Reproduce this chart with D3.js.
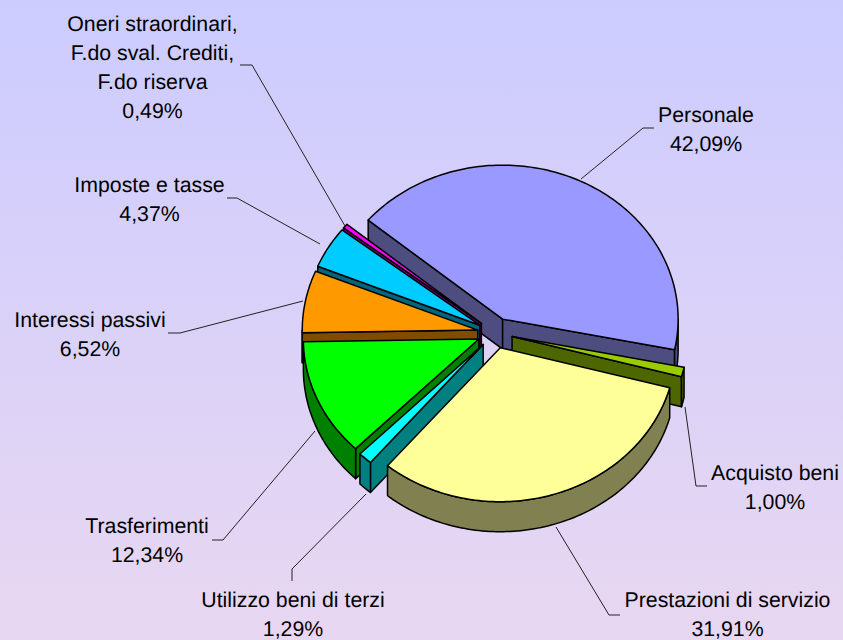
<!DOCTYPE html>
<html><head><meta charset="utf-8">
<script src="https://cdn.jsdelivr.net/npm/d3@7"></script>
<style>html,body{margin:0;padding:0;background:#e0d4f4}svg{display:block}text{text-rendering:geometricPrecision}</style>
</head><body>
<svg id="chart" width="843" height="640"></svg>
<script>
// ---- data ----
const categories = ["Personale","Acquisto beni","Prestazioni di servizio","Utilizzo beni di terzi","Trasferimenti","Interessi passivi","Imposte e tasse","Oneri straordinari"];
const values = [42.09,1.00,31.91,1.29,12.34,6.52,4.37,0.49];
const percentLabels = ["42,09%","1,00%","31,91%","1,29%","12,34%","6,52%","4,37%","0,49%"];
const nameLines = [["Personale"],["Acquisto beni"],["Prestazioni di servizio"],["Utilizzo beni di terzi"],["Trasferimenti"],["Interessi passivi"],["Imposte e tasse"],["Oneri straordinari,","F.do sval. Crediti,","F.do riserva"]];
const topColors = ["#9999FF","#99CC00","#FFFF99","#00FFFF","#00FF00","#FF9900","#00CCFF","#FF00FF"];
const sideColors = ["#4D4D80","#4D6600","#808050","#008080","#008000","#804D00","#006680","#800080"];

// ---- layout ----
const W=843,H=640;
const cx=495,cy=333,rx=175.5,ry=154,depth=30,explode=0.1;
const startDeg=-50;
const paintOrder=[0,1,7,6,5,4,3,2];
// label: centre x, first baseline; leader: text end, elbow, slice-side end
const labelLayout=[
 {x:706,y:121.5,lead:[[654,128],[643,128],[581,179]]},
 {x:775,y:479.5,lead:[[707,486],[696,486],[685,407]]},
 {x:727.5,y:607,lead:[[620,615],[609,615],[556,527]]},
 {x:293,y:607,lead:[[292,581],[292,569],[366,494]]},
 {x:147,y:532.5,lead:[[212,540],[223,540],[315,431]]},
 {x:90,y:326.5,lead:[[168,333],[180,333],[303,301]]},
 {x:149.5,y:191.5,lead:[[227,198],[237,198],[320,244]]},
 {x:152.5,y:30.5,lead:[[240,65],[252,65],[345,226]]}
];
const lineGap=29,fontSize=21.3;

const svg=d3.select("#chart");
const defs=svg.append("defs");
const grad=defs.append("linearGradient").attr("id","bg").attr("x1",0).attr("y1",0).attr("x2",0).attr("y2",1);
grad.append("stop").attr("offset",0).attr("stop-color","#CCCCFF");
grad.append("stop").attr("offset",1).attr("stop-color","#E8D7F1");
svg.append("rect").attr("width",W).attr("height",H).attr("fill","url(#bg)");

const start=startDeg*Math.PI/180;
const arcs=d3.pie().sort(null).startAngle(start).endAngle(start+2*Math.PI)(values);
const line=d3.line();
const radX=d3.scaleLinear().domain([0,1]).range([0,rx]);
const radY=d3.scaleLinear().domain([0,1]).range([0,ry]);
function pt(a,c,r,dz){return [c[0]+radX(r)*Math.sin(a),c[1]-radY(r)*Math.cos(a)+(dz||0)];}
function samples(a0,a1){const n=Math.max(2,Math.ceil(Math.abs(a1-a0)/0.02));return d3.range(n+1).map(i=>a0+(a1-a0)*i/n);}

const g=svg.append("g").attr("stroke","#000").attr("stroke-width",1.5).attr("stroke-linejoin","round");
paintOrder.forEach(i=>{
  const d=arcs[i],a0=d.startAngle,a1=d.endAngle,mid=(a0+a1)/2;
  const c=pt(mid,[cx,cy],explode,0);
  const side=sideColors[i],top=topColors[i];
  // start radial wall visible when its counter-clockwise normal points down the screen
  const wall=(a,sign)=>{
    const ny=-Math.cos(a+sign*Math.PI/2);
    if(ny>0){const p=pt(a,c,1,0);
      g.append("path").attr("fill",side).attr("d",line([c,p,[p[0],p[1]+depth],[c[0],c[1]+depth]])+"Z");}
  };
  wall(a0,-1);wall(a1,1);
  // rim: the part of the outer arc facing the viewer
  for(let k=-1;k<=1;k++){
    const lo=Math.max(a0,Math.PI/2+k*2*Math.PI),hi=Math.min(a1,3*Math.PI/2+k*2*Math.PI);
    if(hi>lo){
      const s=samples(lo,hi);
      const upper=s.map(a=>pt(a,c,1,0));
      const lower=s.slice().reverse().map(a=>pt(a,c,1,depth));
      g.append("path").attr("fill",side).attr("d",line(upper.concat(lower))+"Z");
    }
  }
  // top face
  g.append("path").attr("fill",top).attr("d",line([c].concat(samples(a0,a1).map(a=>pt(a,c,1,0))))+"Z");
});

// leaders and labels
const lab=svg.append("g").attr("font-family","'Liberation Sans',Arial,sans-serif").attr("font-size",fontSize).attr("fill","#000").attr("text-anchor","middle");
categories.forEach((name,i)=>{
  const L=labelLayout[i];
  svg.append("path").attr("d",line(L.lead)).attr("fill","none").attr("stroke","#222").attr("stroke-width",1);
  nameLines[i].concat([percentLabels[i]]).forEach((t,j)=>{
    lab.append("text").attr("x",L.x).attr("y",L.y+j*lineGap).text(t);
  });
});
</script>
</body></html>
